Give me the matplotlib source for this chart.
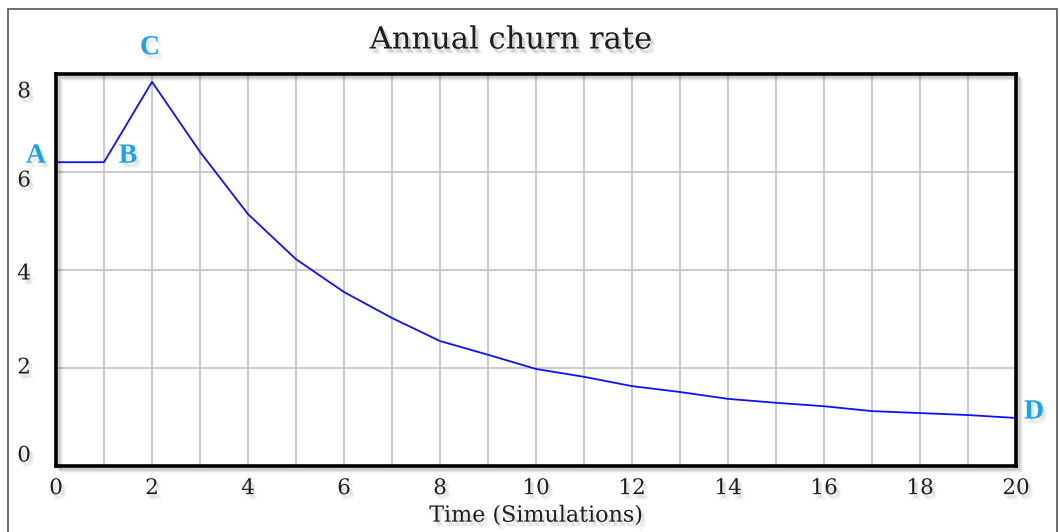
import matplotlib
matplotlib.use("Agg")
import matplotlib.pyplot as plt
import matplotlib.patheffects as pe
from matplotlib.patches import Rectangle
from matplotlib.transforms import ScaledTranslation

# Annual churn rate over the simulated time horizon
time = [0, 1, 2, 3, 4, 5, 6, 7, 8, 9, 10, 11, 12, 13, 14, 15, 16, 17, 18, 19, 20]
churn = [6.2, 6.2, 7.84, 6.41, 5.14, 4.22, 3.55, 3.02, 2.55, 2.27, 1.98,
         1.82, 1.63, 1.51, 1.37, 1.29, 1.22, 1.12, 1.08, 1.04, 0.98]

x_ticks = [0, 2, 4, 6, 8, 10, 12, 14, 16, 18, 20]
y_ticks = [0, 2, 4, 6, 8]

# Marked points on the curve: label, x, y
point_labels = ["A", "B", "C", "D"]
point_x = [0, 1, 2, 20]
point_y = [6.2, 6.2, 7.84, 0.98]

SERIF = ["DejaVu Serif", "Liberation Serif"]
LETTER_FONT = ["Liberation Serif", "DejaVu Serif"]
LABEL_BLUE = "#1ba3e8"
TEXT_COLOR = "#1e1e1e"

fig = plt.figure(figsize=(10.6, 5.32), dpi=100)
W, H = 1060, 532

def fx(px):
    return px / W

def fy(py):
    return 1 - py / H

def soft_shadow(strength=0.06):
    """A few offset grey copies that read as a blurred drop shadow."""
    offs = [(1, -2), (2, -3), (3, -4), (2, -2), (3, -3), (1, -3)]
    return [pe.SimplePatchShadow(offset=o, shadow_rgbFace="#777777", alpha=strength)
            for o in offs] + [pe.Normal()]

# Outer frame of the chart window
frame = Rectangle((fx(8), fy(540)), fx(1057) - fx(8), fy(9) - fy(540),
                  transform=fig.transFigure, fill=False, edgecolor="#555555",
                  linewidth=1.2, zorder=0)
fig.patches.append(frame)

left, right, top, bottom = 56, 1016, 74, 466
ax = fig.add_axes([fx(left), fy(bottom), fx(right) - fx(left), fy(top) - fy(bottom)])

# Soft shadow behind the plot frame
for i, a in enumerate([0.10, 0.08, 0.06, 0.04]):
    off = 2 + i
    sh = Rectangle((fx(left + off), fy(bottom + off)), fx(right) - fx(left), fy(top) - fy(bottom),
                   transform=fig.transFigure, fill=False, edgecolor="black",
                   linewidth=2.0, alpha=a, zorder=0)
    fig.patches.append(sh)

ax.set_xlim(0, 20)
ax.set_ylim(0, 8)

ax.plot(time, churn, color="#1010ff", linewidth=1.3, zorder=3, clip_on=False)

ax.set_xticks(range(0, 21))
ax.set_yticks(y_ticks)
ax.grid(True, color="#cccccc", linewidth=1.5, zorder=1)
ax.set_axisbelow(True)
for s in ax.spines.values():
    s.set_linewidth(2.6)
    s.set_color("black")
    s.set_zorder(4)

ax.set_xticklabels([str(t) if t in x_ticks else "" for t in range(0, 21)],
                   fontfamily=SERIF, fontsize=15.5, color=TEXT_COLOR)
ax.set_yticklabels([str(t) for t in y_ticks], fontfamily=SERIF, fontsize=15.5,
                   color=TEXT_COLOR, ha="center")
ax.tick_params(axis="x", length=0, pad=8)
ax.tick_params(axis="y", length=0, pad=23)

# Vensim-style vertical spacing of the y tick labels
y_shift_px = [13, 3, -1, -6, -15]
for lab, dy in zip(ax.get_yticklabels(), y_shift_px):
    lab.set_transform(lab.get_transform() + ScaledTranslation(0, dy / 100, fig.dpi_scale_trans))
for lab in ax.get_xticklabels() + ax.get_yticklabels():
    lab.set_path_effects(soft_shadow())

ax.set_xlabel("Time (Simulations)", fontfamily=SERIF, fontsize=16, color=TEXT_COLOR,
              labelpad=4, path_effects=soft_shadow())

fig.text(fx(511), fy(40), "Annual churn rate", fontfamily=SERIF, fontsize=22,
         color=TEXT_COLOR, ha="center", va="center", path_effects=soft_shadow(0.08))

# Letters marking the key points
offsets_px = [(-20, 6), (24, 6), (-2, 34), (18, 6)]
for lab, x, y, (dx, dy) in zip(point_labels, point_x, point_y, offsets_px):
    ax.annotate(lab, xy=(x, y), xytext=(dx * 0.72, dy * 0.72), textcoords="offset points",
                ha="center", va="center", fontfamily=LETTER_FONT, fontsize=20,
                fontweight="bold", color=LABEL_BLUE, annotation_clip=False,
                path_effects=soft_shadow(0.04))

fig.savefig("out.png", dpi=100)
